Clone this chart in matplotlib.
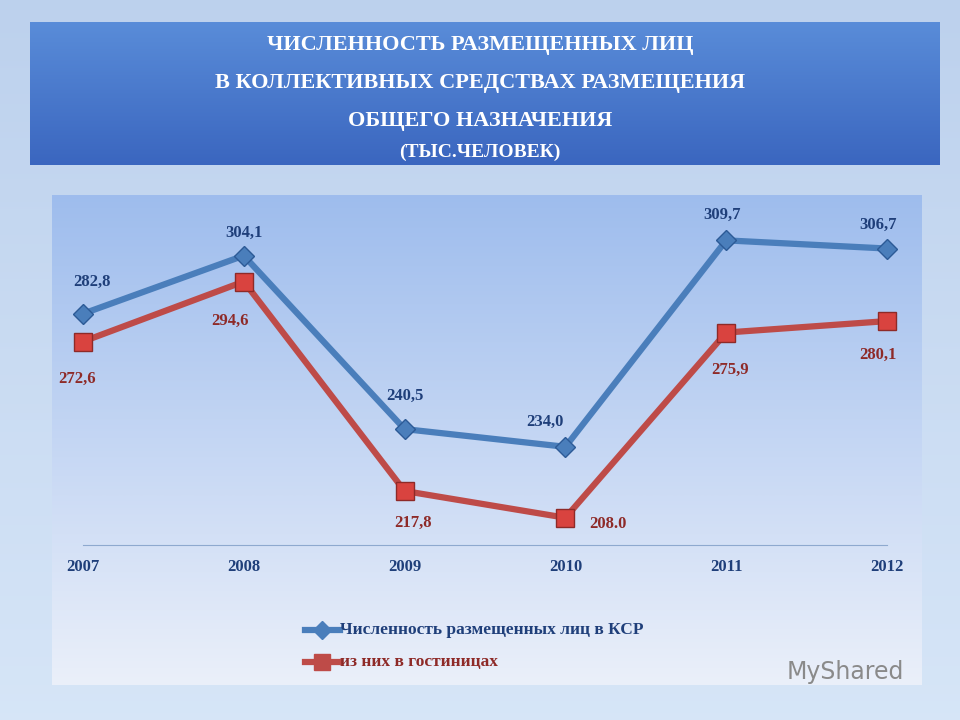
import matplotlib
matplotlib.use("Agg")
import matplotlib.pyplot as plt
import numpy as np
from matplotlib.lines import Line2D

years = [2007, 2008, 2009, 2010, 2011, 2012]
ksr = [282.8, 304.1, 240.5, 234.0, 309.7, 306.7]
hotels = [272.6, 294.6, 217.8, 208.0, 275.9, 280.1]
ksr_labels = ["282,8", "304,1", "240,5", "234,0", "309,7", "306,7"]
hotel_labels = ["272,6", "294,6", "217,8", "208.0", "275,9", "280,1"]
ksr_off = [(9, 32), (0, 23), (0, 33), (-20, 25), (-4, 25), (-9, 24)]
hotel_off = [(-6, -37), (-14, -39), (8, -32), (43, -6), (4, -37), (-9, -34)]

blue = "#4A7EBB"
red = "#BE4B48"
serif = "Liberation Serif"

fig = plt.figure(figsize=(9.6, 7.2), dpi=100)
bg = fig.add_axes([0, 0, 1, 1], zorder=-10)
bg.set_axis_off()
g = np.linspace(0, 1, 256).reshape(-1, 1)
bg.imshow(np.dstack([0.74 + 0.1 * g, 0.82 + 0.08 * g, 0.93 + 0.04 * g]),
          extent=[0, 1, 0, 1], aspect="auto", origin="upper")
bg.imshow(np.dstack([0.62 + 0.3 * g, 0.74 + 0.2 * g, 0.93 + 0.05 * g]),
          extent=[52 / 960, 922 / 960, 1 - 685 / 720, 1 - 195 / 720], aspect="auto", origin="upper")
bg.imshow(np.dstack([0.35 - 0.12 * g, 0.55 - 0.15 * g, 0.85 - 0.1 * g]),
          extent=[30 / 960, 940 / 960, 1 - 165 / 720, 1 - 22 / 720], aspect="auto", origin="upper")
bg.set_xlim(0, 1); bg.set_ylim(0, 1)

tkw = dict(color="white", family=serif, weight="bold", ha="center", va="center")
fig.text(0.5, 1 - 45 / 720, "ЧИСЛЕННОСТЬ РАЗМЕЩЕННЫХ ЛИЦ", fontsize=16, **tkw)
fig.text(0.5, 1 - 83 / 720, "В КОЛЛЕКТИВНЫХ СРЕДСТВАХ РАЗМЕЩЕНИЯ", fontsize=16, **tkw)
fig.text(0.5, 1 - 121 / 720, "ОБЩЕГО НАЗНАЧЕНИЯ", fontsize=16, **tkw)
fig.text(0.5, 1 - 152 / 720, "(ТЫС.ЧЕЛОВЕК)", fontsize=14, **tkw)

ax = fig.add_axes([83 / 960, 1 - 545 / 720, (887 - 83) / 960, 345 / 720])
ax.patch.set_alpha(0)
ax.set_xlim(2007, 2012)
ax.set_ylim(198, 324.5)
for s in ["top", "right", "left"]:
    ax.spines[s].set_visible(False)
ax.spines["bottom"].set_color("#8EA9CF")
ax.set_yticks([])
ax.set_xticks(years)
ax.set_xticklabels([str(y) for y in years], family=serif, weight="bold", fontsize=12, color="#1F3F7A")
ax.tick_params(axis="x", length=0, pad=10)

ax.plot(years, ksr, color=blue, lw=4.5, marker="D", ms=10, mfc=blue, mec="#2C5A96", clip_on=False, zorder=3)
ax.plot(years, hotels, color=red, lw=4.5, marker="s", ms=13, mfc="#D9433F", mec="#8E2A28", clip_on=False, zorder=3)
for x, y, l, o in zip(years, ksr, ksr_labels, ksr_off):
    ax.annotate(l, (x, y), xytext=o, textcoords="offset pixels", ha="center", va="center",
                family=serif, weight="bold", fontsize=12, color="#1F3F7A")
for x, y, l, o in zip(years, hotels, hotel_labels, hotel_off):
    ax.annotate(l, (x, y), xytext=o, textcoords="offset pixels", ha="center", va="center",
                family=serif, weight="bold", fontsize=12, color="#8E2A28")

for yy, col, mk, ms, lab, tc in [(630, blue, "D", 9, "Численность размещенных лиц в КСР", "#1F3F7A"),
                                  (662, red, "s", 11, "из них в гостиницах", "#8E2A28")]:
    fy = 1 - yy / 720
    fig.add_artist(Line2D([305 / 960, 340 / 960], [fy, fy], color=col, lw=4.5))
    fig.add_artist(Line2D([322 / 960], [fy], color=col, marker=mk, ms=ms, mfc=col))
    fig.text(340 / 960, fy, lab, family=serif, weight="bold", fontsize=12.5, color=tc, va="center")

fig.text(845 / 960, 1 - 672 / 720, "MyShared", fontsize=17, color="#8A8A8A", ha="center", va="center")
fig.savefig("out.png", dpi=100)
